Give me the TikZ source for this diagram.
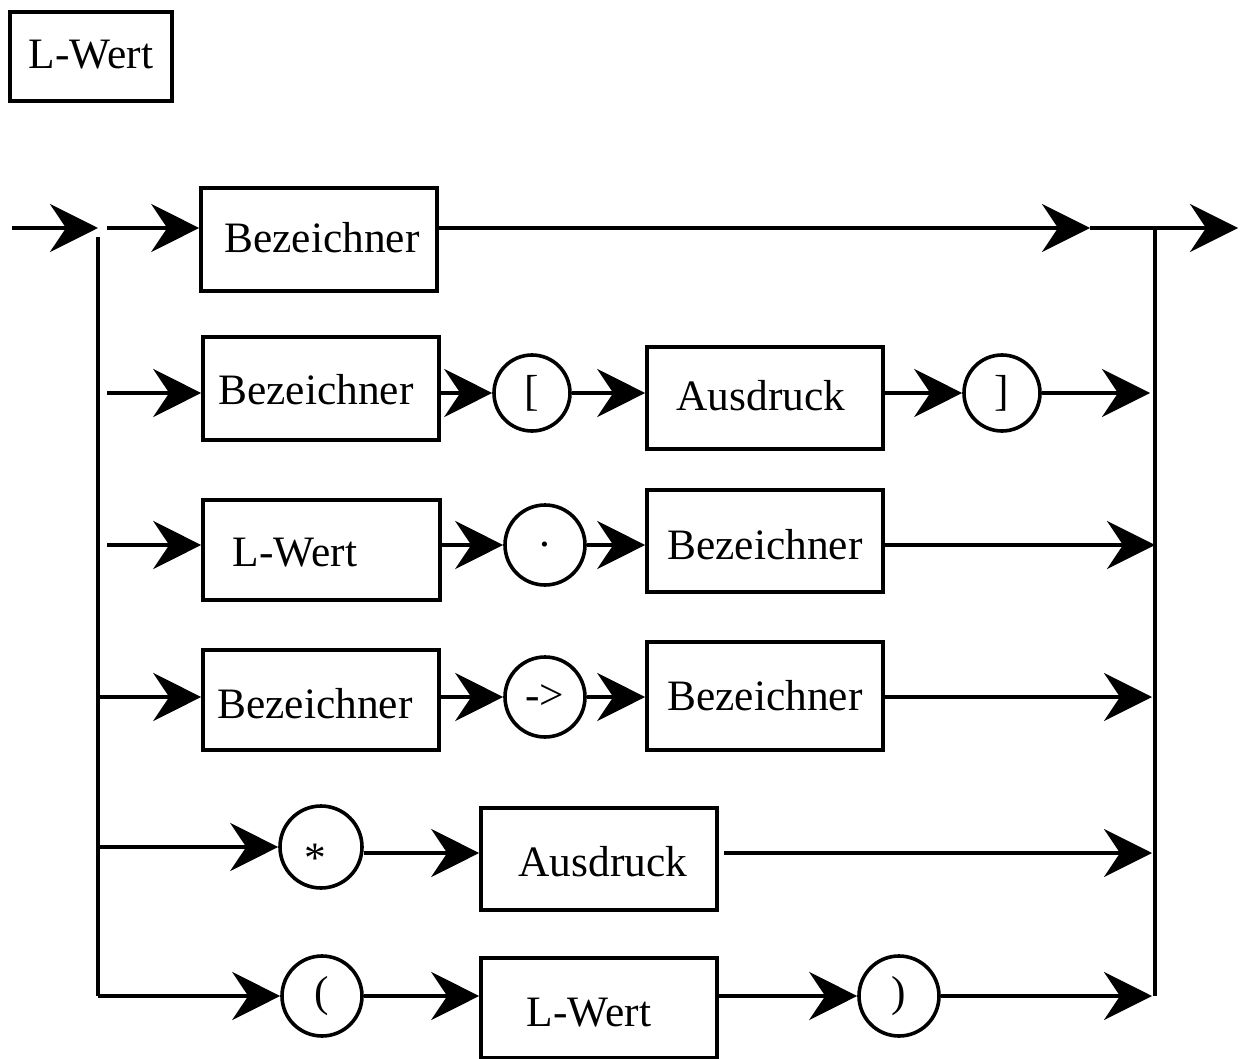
\documentclass[tikz,border=0pt]{standalone}
\usepackage{fontspec}
\setmainfont{Liberation Serif}
\usetikzlibrary{arrows.meta}
\begin{document}
\begin{tikzpicture}[x=0.5pt,y=-0.5pt,
  every node/.style={font=\fontsize{21.7pt}{24pt}\selectfont, inner sep=0pt},
  box/.style={draw, line width=1.8pt},
  circ/.style={draw, circle, line width=1.8pt, minimum size=40pt},
  ln/.style={line width=2pt},
  arr/.style={line width=2pt, -{Stealth[length=24pt,width=24pt,inset=8pt]}}]
\useasboundingbox (0,0) rectangle (1242,1059);
% title
\node[box, minimum width=81pt, minimum height=44.5pt] (title) at (91,56.5) {};
\node (titlet) at (91,55) {L-Wert};
% row coordinates
\coordinate (r1) at (0,228);
\coordinate (r2) at (0,393);
\coordinate (r3) at (0,545);
\coordinate (r4) at (0,697);
\coordinate (r5) at (0,847);
\coordinate (r5b) at (0,853);
\coordinate (r6) at (0,996);
% buses
\coordinate (in) at (12,228);
\coordinate (lbtop) at (98,228);
\coordinate (lbstart) at (98,237);
\coordinate (lbbot) at (98,996);
\coordinate (rbtop) at (1155,228);
\coordinate (rbbot) at (1155,996);
\coordinate (mid1) at (1090,228);
\coordinate (out) at (1238,228);
\draw[arr] (in) -- (lbtop);
\draw[ln] (lbstart) -- (lbbot);
\draw[ln] (rbtop) -- (rbbot);
% row 1
\node[box, minimum width=118pt, minimum height=51.5pt] (b1) at (319,239.5) {};
\node (b1t) at (322,238) {Bezeichner};
\draw[arr] (107,228) coordinate (s1) -- (b1.west |- r1);
\draw[arr] (b1.east |- r1) -- (mid1);
\draw[arr] (mid1) -- (out);
% row 2
\node[box, minimum width=118pt, minimum height=51.5pt] (b2a) at (321,388.5) {};
\node (b2at) at (316,390) {Bezeichner};
\node[circ, minimum size=38pt] (c2a) at (532,393) {[};
\node[box, minimum width=118pt, minimum height=51pt] (b2b) at (765,398) {};
\node (b2bt) at (761,396) {Ausdruck};
\node[circ, minimum size=38pt] (c2b) at (1002,393) {]};
\coordinate (e2) at (1150,393);
\coordinate (s2) at (107,393);
\draw[arr] (s2) -- (b2a.west |- r2);
\draw[arr] (b2a.east |- r2) -- (c2a.west);
\draw[arr] (c2a.east) -- (b2b.west |- r2);
\draw[arr] (b2b.east |- r2) -- (c2b.west);
\draw[arr] (c2b.east) -- (e2);
% row 3
\node[box, minimum width=118.5pt, minimum height=50pt] (b3a) at (321.5,550) {};
\node (b3at) at (295,553) {L-Wert};
\node[circ] (c3) at (545,545) {.};
\node[box, minimum width=118pt, minimum height=51pt] (b3b) at (765,541) {};
\node (b3bt) at (765,545) {Bezeichner};
\coordinate (s3) at (107,545);
\coordinate (e3) at (1155,545);
\draw[arr] (s3) -- (b3a.west |- r3);
\draw[arr] (b3a.east |- r3) -- (c3.west);
\draw[arr] (c3.east) -- (b3b.west |- r3);
\draw[arr] (b3b.east |- r3) -- (e3);
% row 4
\node[box, minimum width=118pt, minimum height=50pt] (b4a) at (321,700) {};
\node (b4at) at (315,704) {Bezeichner};
\node[circ] (c4) at (545,697) {->};
\node[box, minimum width=118pt, minimum height=54pt] (b4b) at (765,696) {};
\node (b4bt) at (765,696) {Bezeichner};
\coordinate (s4) at (100,697);
\coordinate (e4) at (1152,697);
\draw[arr] (s4) -- (b4a.west |- r4);
\draw[arr] (b4a.east |- r4) -- (c4.west);
\draw[arr] (c4.east) -- (b4b.west |- r4);
\draw[arr] (b4b.east |- r4) -- (e4);
% row 5
\node[circ, minimum size=41pt] (c5) at (321,847) {};
\node (c5t) at (315,858) {*};
\node[box, minimum width=118pt, minimum height=51pt] (b5) at (599,859) {};
\node (b5t) at (603,862) {Ausdruck};
\coordinate (s5) at (98,847);
\coordinate (e5) at (1152,853);
\draw[arr] (s5) -- (c5.west);
\draw[arr] (c5.east |- r5b) -- (b5.west |- r5b);
\draw[arr] (b5.east |- r5b) ++(5,0) -- (e5);
% row 6
\node[circ] (c6) at (322,996) {(};
\node[box, minimum width=118pt, minimum height=50pt] (b6) at (599,1008) {};
\node (b6t) at (589,1013) {L-Wert};
\node[circ] (c7) at (899,996) {)};
\coordinate (e6) at (1152,996);
\draw[arr] (lbbot) -- (c6.west);
\draw[arr] (c6.east) -- (b6.west |- r6);
\draw[arr] (b6.east |- r6) -- (c7.west);
\draw[arr] (c7.east) -- (e6);
\end{tikzpicture}
\end{document}
